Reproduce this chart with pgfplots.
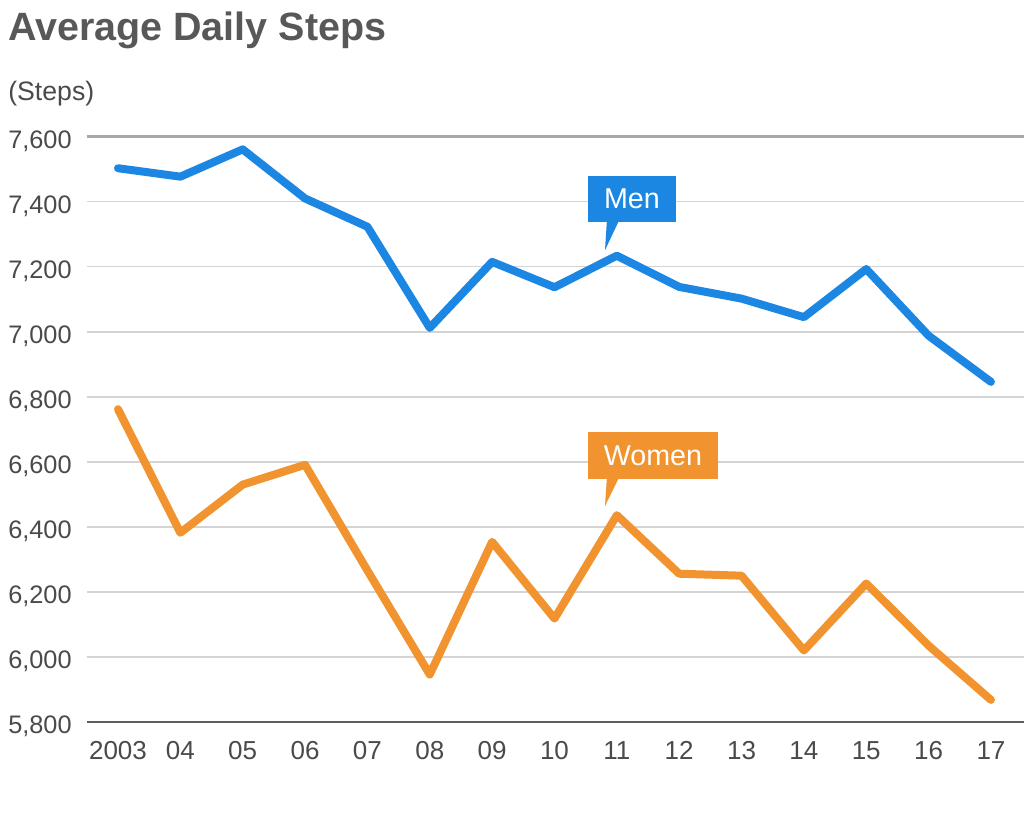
\documentclass[border=0pt]{standalone}
\usepackage{pgfplots}
\pgfplotsset{compat=1.18}
\usepackage{fontspec}
\setmainfont{Liberation Sans}

\definecolor{menblue}{HTML}{1C87E2}
\definecolor{womenorange}{HTML}{F19430}
\definecolor{txtgray}{HTML}{4A4A4A}
\definecolor{titlegray}{HTML}{585858}
\definecolor{gridgray}{HTML}{D4D4D4}
\definecolor{topgray}{HTML}{A8A8A8}
\definecolor{axisgray}{HTML}{5E5E5E}

\begin{document}
\begin{tikzpicture}
\useasboundingbox (0pt,0pt) rectangle (768pt,-619.5pt);
\node[anchor=base west, inner sep=0pt, text=titlegray,
      font=\fontsize{29.6}{32}\selectfont\bfseries] at (6pt,-30.5pt) {Average Daily Steps};
\node[anchor=base west, inner sep=0pt, text=txtgray,
      font=\fontsize{20}{24}\selectfont] at (6pt,-75pt) {(Steps)};
\begin{axis}[
    at={(65.25pt,-541.5pt)}, anchor=south west,
    scale only axis, width=702.75pt, height=439pt,
    xmin=-0.497, xmax=14.53, ymin=5800, ymax=7600,
    xtick={0,...,14},
    xticklabels={2003,04,05,06,07,08,09,10,11,12,13,14,15,16,17},
    ytick={5800,6000,...,7600},
    major tick length=0pt,
    axis line style={draw=none},
    ymajorgrids, grid style={gridgray, line width=1.1pt},
    /pgf/number format/assume math mode=true,
    ticklabel style={text=txtgray, font=\fontsize{19}{22}\selectfont, inner sep=0pt},
    yticklabel style={anchor=base west, xshift=-59.25pt, yshift=-8.8pt},
    xticklabel style={anchor=base, yshift=-27.75pt, font=\fontsize{19.5}{22}\selectfont},
    clip=false,
]
\draw[topgray, line width=2.2pt] (rel axis cs:0,1) -- (rel axis cs:1,1);
\draw[axisgray, line width=1.5pt] (rel axis cs:0,0) -- (rel axis cs:1,0);

% Men
\addplot[menblue, line width=6pt, line join=round, line cap=round] coordinates {
  (0,7503) (1,7477) (2,7561) (3,7410) (4,7323) (5,7012) (6,7215) (7,7137)
  (8,7234) (9,7138) (10,7102) (11,7045) (12,7193) (13,6988) (14,6846)};
% Women
\addplot[womenorange, line width=6pt, line join=round, line cap=round] coordinates {
  (0,6762) (1,6382) (2,6530) (3,6591) (4,6266) (5,5946) (6,6354) (7,6118)
  (8,6436) (9,6256) (10,6250) (11,6020) (12,6226) (13,6035) (14,5868)};

% callouts
\fill[menblue] (axis cs:7.537,7336.6) rectangle (axis cs:8.948,7480);
\fill[menblue] (axis cs:7.84,7340) -- (axis cs:7.81,7251) -- (axis cs:8.03,7340) -- cycle;
\node[text=white, inner sep=0pt, font=\fontsize{21.5}{24}\selectfont] at (axis cs:8.2425,7408.3) {Men};
\fill[womenorange] (axis cs:7.537,6545.8) rectangle (axis cs:9.622,6692.3);
\fill[womenorange] (axis cs:7.84,6550) -- (axis cs:7.81,6464) -- (axis cs:8.03,6550) -- cycle;
\node[text=white, inner sep=0pt, font=\fontsize{21.5}{24}\selectfont] at (axis cs:8.58,6619) {Women};
\end{axis}
\end{tikzpicture}
\end{document}
